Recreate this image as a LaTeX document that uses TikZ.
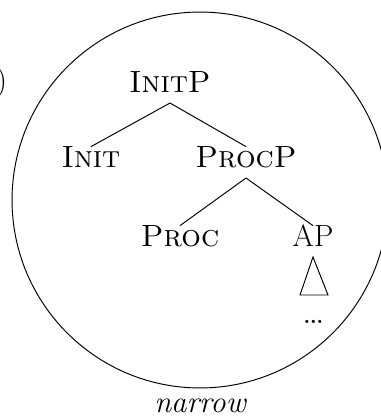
\documentclass[tikz,border=0pt]{standalone}
\usepackage{fontspec}

\begin{document}
\begin{tikzpicture}[x=0.02cm,y=0.02cm]

\tikzstyle{cat}=[font=\fontsize{17.5}{21}\selectfont, text height=1.5ex, text depth=0pt, inner xsep=1pt, inner ysep=5.5pt, anchor=base]
\tikzstyle{branch}=[line width=0.55pt]

\useasboundingbox (0,0) rectangle (381,416);

\node[cat, anchor=base east] (exnum) at (9,325) {(1)};

\node[cat] (initp) at (170,323)  {\textsc{InitP}};
\node[cat] (init) at (91,248)  {\textsc{Init}};
\node[cat] (procp) at (246,248)  {\textsc{ProcP}};
\node[cat] (proc) at (180,169)  {\textsc{Proc}};
\node[cat] (ap) at (313,169)  {AP};
\node[cat, font=\fontsize{22}{24}\selectfont] (dots) at (314,92)  {\dots};

\node[cat, inner ysep=0pt, font=\fontsize{17.5}{21}\selectfont\itshape] (narrow) at (200,4)  {narrow};


\path (initp.south) [branch]  edge (init.north);
\path (initp.south) [branch]  edge (procp.north);

\path (procp.south) [branch]  edge (proc.north);
\path (procp.south) [branch]  edge (ap.north);

\draw[branch] (ap.south) -- ++(-13,-38) -- ++(28,0) -- cycle;


\draw[branch] (200,216) circle [radius=3.76cm];

\end{tikzpicture}
\end{document}
